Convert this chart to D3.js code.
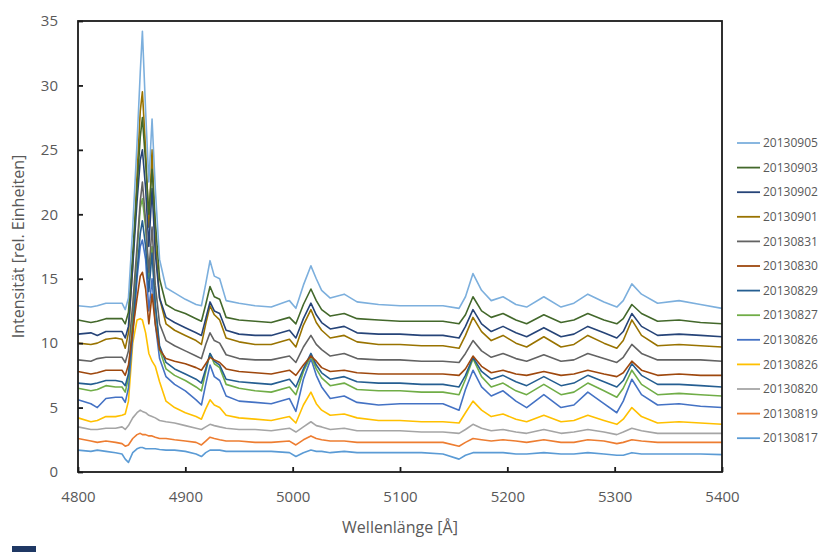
<!DOCTYPE html>
<html>
<head>
<meta charset="utf-8">
<script src="https://cdn.jsdelivr.net/npm/d3@7"></script>
<style>
  body { margin: 0; background: #fff; font-family: "Open Sans", sans-serif; }
  .tick text { fill: #595959; }
</style>
</head>
<body>
<script>
const wavelengths = [4800, 4812, 4818, 4826, 4835, 4841, 4844, 4847, 4851, 4855, 4858, 4860, 4863, 4866, 4869, 4872, 4876, 4882, 4890, 4900,
  4910, 4915, 4919, 4923, 4927, 4932, 4938, 4950, 4965, 4980, 4997, 5003, 5010, 5017, 5022, 5027, 5035, 5048, 5060, 5080,
  5100, 5120, 5140, 5155, 5161, 5168, 5176, 5185, 5196, 5208, 5218, 5234, 5250, 5262, 5275, 5290, 5302, 5308, 5316, 5325,
  5340, 5360, 5380, 5400];

const v20130817 = [1.7, 1.6, 1.7, 1.6, 1.5, 1.4, 1.0, 0.75, 1.5, 1.8, 1.9, 1.9, 1.8, 1.8, 1.8, 1.8, 1.75, 1.7, 1.7, 1.6,
  1.4, 1.2, 1.5, 1.7, 1.7, 1.7, 1.6, 1.6, 1.6, 1.6, 1.5, 1.2, 1.5, 1.7, 1.6, 1.6, 1.5, 1.6, 1.5, 1.5,
  1.5, 1.5, 1.4, 1.0, 1.3, 1.5, 1.5, 1.5, 1.5, 1.4, 1.4, 1.5, 1.4, 1.4, 1.5, 1.4, 1.3, 1.3, 1.5, 1.4,
  1.4, 1.4, 1.4, 1.35];
const v20130819 = [2.6, 2.4, 2.3, 2.4, 2.3, 2.2, 2.0, 2.1, 2.6, 2.9, 3.0, 2.9, 2.9, 2.8, 2.8, 2.7, 2.6, 2.6, 2.5, 2.4,
  2.3, 2.1, 2.4, 2.7, 2.6, 2.5, 2.4, 2.4, 2.3, 2.3, 2.4, 2.1, 2.5, 2.8, 2.6, 2.5, 2.4, 2.4, 2.3, 2.3,
  2.3, 2.3, 2.3, 2.0, 2.3, 2.6, 2.5, 2.4, 2.5, 2.4, 2.3, 2.5, 2.3, 2.3, 2.5, 2.4, 2.2, 2.3, 2.5, 2.4,
  2.3, 2.3, 2.3, 2.3];
const v20130820 = [3.5, 3.3, 3.3, 3.4, 3.4, 3.5, 3.3, 3.6, 4.2, 4.6, 4.8, 4.7, 4.6, 4.4, 4.3, 4.2, 4.0, 3.9, 3.8, 3.6,
  3.4, 3.3, 3.5, 3.7, 3.6, 3.5, 3.4, 3.3, 3.3, 3.2, 3.4, 3.1, 3.5, 3.9, 3.6, 3.5, 3.3, 3.4, 3.2, 3.2,
  3.2, 3.1, 3.1, 3.0, 3.3, 3.7, 3.4, 3.2, 3.3, 3.1, 3.0, 3.3, 3.0, 3.1, 3.3, 3.1, 2.9, 3.1, 3.4, 3.2,
  3.0, 3.0, 3.0, 3.0];
const v20130826y = [4.2, 3.9, 4.0, 4.3, 4.3, 4.4, 4.5, 5.5, 10.0, 11.8, 11.9, 11.8, 10.8, 9.2, 8.6, 8.2, 7.0, 5.5, 5.0, 4.6,
  4.3, 4.1, 4.9, 5.6, 5.2, 5.0, 4.4, 4.2, 4.1, 4.0, 4.3, 3.8, 5.2, 6.2, 5.3, 4.8, 4.4, 4.5, 4.2, 4.0,
  4.0, 3.9, 3.9, 3.8, 4.6, 5.5, 4.8, 4.3, 4.5, 4.1, 3.9, 4.4, 3.9, 4.0, 4.4, 4.0, 3.7, 4.1, 5.0, 4.3,
  3.8, 3.9, 3.8, 3.7];
const v20130826b = [5.6, 5.3, 5.0, 5.7, 5.8, 5.8, 5.4, 6.5, 10.5, 15.0, 17.5, 18.0, 16.5, 12.5, 15.0, 11.5, 8.8, 7.4, 6.8, 6.3,
  5.6, 5.2, 6.8, 8.3, 7.4, 7.1, 5.9, 5.5, 5.4, 5.3, 5.7, 4.7, 7.2, 8.8, 7.5, 6.6, 5.7, 5.9, 5.4, 5.2,
  5.3, 5.3, 5.3, 4.8, 6.4, 7.9, 6.6, 5.9, 6.3, 5.5, 5.0, 6.0, 5.0, 5.2, 6.2, 5.3, 4.6, 5.5, 7.2, 6.0,
  5.2, 5.3, 5.1, 5.0];
const v20130827 = [6.5, 6.3, 6.4, 6.7, 6.6, 6.6, 6.2, 7.3, 12.0, 17.0, 20.5, 21.2, 19.0, 15.0, 17.5, 13.0, 9.5, 8.0, 7.5, 7.1,
  6.6, 6.3, 7.8, 9.2, 8.4, 8.1, 6.8, 6.5, 6.3, 6.2, 6.6, 6.0, 7.8, 9.0, 8.0, 7.3, 6.7, 6.9, 6.4, 6.3,
  6.3, 6.2, 6.2, 6.0, 7.2, 8.8, 7.4, 6.6, 6.9, 6.3, 6.0, 6.8, 6.0, 6.2, 6.9, 6.3, 5.8, 6.5, 7.9, 6.8,
  6.0, 6.1, 6.0, 5.9];
const v20130829 = [6.9, 6.8, 6.9, 7.1, 7.1, 7.0, 6.7, 7.6, 11.0, 15.5, 18.5, 19.5, 17.5, 14.0, 17.0, 13.0, 9.8, 8.5, 8.0, 7.6,
  7.2, 6.9, 8.0, 9.2, 8.6, 8.3, 7.2, 7.0, 6.9, 6.8, 7.2, 6.6, 8.0, 9.2, 8.3, 7.7, 7.2, 7.4, 7.0, 6.9,
  6.9, 6.8, 6.8, 6.6, 7.5, 8.9, 7.8, 7.2, 7.5, 7.0, 6.7, 7.4, 6.7, 6.9, 7.5, 7.0, 6.6, 7.1, 8.4, 7.5,
  6.8, 6.8, 6.7, 6.6];
const v20130830 = [7.8, 7.6, 7.7, 7.9, 7.9, 7.9, 7.5, 8.3, 11.0, 13.5, 15.2, 15.5, 14.2, 11.5, 13.8, 11.5, 9.5, 8.8, 8.6, 8.4,
  8.1, 7.9, 8.4, 8.9, 8.7, 8.5, 8.0, 7.8, 7.7, 7.6, 7.9, 7.5, 8.3, 9.0, 8.6, 8.1, 7.8, 7.9, 7.7, 7.6,
  7.6, 7.6, 7.6, 7.5, 8.0, 9.0, 8.2, 7.7, 7.9, 7.6, 7.5, 7.8, 7.5, 7.6, 7.9, 7.6, 7.4, 7.7, 8.6, 7.9,
  7.5, 7.6, 7.5, 7.5];
const v20130831 = [8.7, 8.6, 8.8, 8.9, 8.9, 8.9, 8.5, 9.4, 13.0, 17.5, 21.0, 22.5, 19.5, 15.5, 19.0, 14.5, 11.5, 10.2, 9.8, 9.4,
  9.0, 8.8, 9.9, 10.8, 10.2, 10.0, 9.1, 8.8, 8.7, 8.7, 9.0, 8.5, 9.7, 10.6, 9.9, 9.5, 9.0, 9.2, 8.8, 8.7,
  8.7, 8.6, 8.6, 8.5, 9.2, 10.2, 9.4, 8.9, 9.2, 8.8, 8.6, 9.1, 8.6, 8.7, 9.2, 8.8, 8.5, 8.9, 9.9, 9.2,
  8.7, 8.7, 8.7, 8.6];
const v20130901 = [10.0, 9.9, 10.0, 10.3, 10.4, 10.3, 9.6, 10.8, 16.0, 23.0, 28.0, 29.5, 25.0, 19.0, 25.0, 18.0, 13.5, 11.5, 11.0, 10.6,
  10.2, 9.9, 11.5, 12.9, 12.2, 11.8, 10.4, 10.1, 9.9, 9.9, 10.3, 9.7, 11.4, 12.6, 11.6, 11.0, 10.4, 10.6, 10.1, 9.9,
  9.9, 9.8, 9.8, 9.6, 10.6, 12.0, 10.9, 10.2, 10.6, 10.0, 9.7, 10.5, 9.7, 9.9, 10.6, 10.0, 9.6, 10.2, 11.8, 10.6,
  9.8, 9.9, 9.8, 9.7];
const v20130902 = [10.7, 10.8, 10.6, 10.9, 10.9, 10.9, 10.4, 11.3, 16.0, 21.0, 24.2, 25.0, 22.0, 17.5, 22.0, 17.0, 13.5, 12.0, 11.6, 11.2,
  10.8, 10.6, 11.9, 13.2, 12.5, 12.3, 11.0, 10.7, 10.6, 10.6, 11.0, 10.4, 11.9, 13.1, 12.2, 11.6, 11.1, 11.3, 10.8, 10.7,
  10.7, 10.6, 10.6, 10.4, 11.3, 12.6, 11.5, 10.9, 11.3, 10.8, 10.5, 11.2, 10.5, 10.7, 11.3, 10.8, 10.4, 10.9, 12.3, 11.3,
  10.6, 10.7, 10.6, 10.5];
const v20130903 = [11.8, 11.6, 11.7, 11.9, 11.9, 11.9, 11.5, 12.4, 17.0, 22.0, 26.0, 27.5, 24.0, 20.0, 23.5, 19.5, 15.0, 13.0, 12.6, 12.3,
  11.9, 11.7, 13.0, 14.4, 13.6, 13.4, 12.0, 11.8, 11.7, 11.6, 12.0, 11.5, 13.0, 14.2, 13.3, 12.6, 12.1, 12.3, 11.9, 11.8,
  11.7, 11.7, 11.7, 11.5, 12.2, 13.6, 12.5, 12.0, 12.3, 11.8, 11.5, 12.2, 11.6, 11.8, 12.3, 11.8, 11.5, 11.9, 13.0, 12.3,
  11.7, 11.8, 11.6, 11.5];
const v20130905 = [12.9, 12.8, 12.9, 13.1, 13.1, 13.1, 12.6, 13.5, 19.0, 25.5, 31.0, 34.2, 28.0, 22.5, 27.4, 22.0, 16.5, 14.3, 13.9, 13.4,
  13.0, 12.9, 14.6, 16.4, 15.2, 15.0, 13.3, 13.1, 12.9, 12.8, 13.3, 12.7, 14.5, 16.0, 15.0, 14.1, 13.5, 13.8, 13.2, 13.0,
  12.9, 12.9, 12.9, 12.7, 13.6, 15.4, 14.1, 13.3, 13.6, 13.0, 12.8, 13.6, 12.8, 13.1, 13.8, 13.2, 12.8, 13.3, 14.6, 13.8,
  13.1, 13.3, 13.0, 12.7];

// series in drawing order (first = bottom), labels as in the legend
const seriesLabels = ["20130817", "20130819", "20130820", "20130826", "20130826", "20130827", "20130829",
  "20130830", "20130831", "20130901", "20130902", "20130903", "20130905"];
const seriesValues = [v20130817, v20130819, v20130820, v20130826y, v20130826b, v20130827, v20130829,
  v20130830, v20130831, v20130901, v20130902, v20130903, v20130905];
const seriesColors = ["#5b9bd5", "#ed7d31", "#a5a5a5", "#ffc000", "#4472c4", "#70ad47", "#255e91",
  "#9e480e", "#636363", "#997300", "#264478", "#43682b", "#7cafdd"];

const xTicks = [4800, 4900, 5000, 5100, 5200, 5300, 5400];
const yTicks = [0, 5, 10, 15, 20, 25, 30, 35];

const margin = { top: 21, right: 113, bottom: 80, left: 78 };
const width = 835 - margin.left - margin.right;   // 644
const height = 552 - margin.top - margin.bottom;  // 451

const svg = d3.select("body").append("svg")
  .attr("width", 835)
  .attr("height", 552);

const g = svg.append("g")
  .attr("transform", "translate(" + margin.left + "," + margin.top + ")");

const x = d3.scaleLinear().domain([4800, 5400]).range([0, width]);
const y = d3.scaleLinear().domain([0, 35]).range([height, 0]);

// spectra
const line = d3.line()
  .x((d, i) => x(wavelengths[i]))
  .y(d => y(d));

seriesValues.forEach((vals, k) => {
  g.append("path")
    .datum(vals)
    .attr("fill", "none")
    .attr("stroke", seriesColors[k])
    .attr("stroke-width", 1.6)
    .attr("stroke-linejoin", "round")
    .attr("d", line);
});

// frame
g.append("rect")
  .attr("width", width)
  .attr("height", height)
  .attr("fill", "none")
  .attr("stroke", "#1a1a1a")
  .attr("stroke-width", 1.8);

// axes, ticks pointing inward
g.append("g")
  .attr("transform", "translate(0," + height + ")")
  .call(d3.axisBottom(x).tickValues(xTicks).tickFormat(d3.format("d")).tickSize(-5).tickPadding(19))
  .call(a => a.select(".domain").remove())
  .call(a => a.selectAll("line").attr("stroke", "#1a1a1a").attr("stroke-width", 1.8))
  .call(a => a.selectAll("text").style("font-size", "15px").attr("font-family", "Open Sans"));

g.append("g")
  .call(d3.axisLeft(y).tickValues(yTicks).tickSize(-5).tickPadding(20))
  .call(a => a.select(".domain").remove())
  .call(a => a.selectAll("line").attr("stroke", "#1a1a1a").attr("stroke-width", 1.8))
  .call(a => a.selectAll("text").style("font-size", "15px").attr("font-family", "Open Sans"));

// axis titles
svg.append("text")
  .attr("x", margin.left + width / 2)
  .attr("y", 533)
  .attr("text-anchor", "middle")
  .attr("fill", "#595959")
  .style("font-size", "16px")
  .text("Wellenlänge [Å]");

svg.append("text")
  .attr("transform", "translate(24," + (margin.top + height / 2) + ") rotate(-90)")
  .attr("text-anchor", "middle")
  .attr("fill", "#595959")
  .style("font-size", "16px")
  .text("Intensität [rel. Einheiten]");

// legend, last series on top
const legend = svg.append("g");
const order = d3.range(seriesLabels.length).reverse();
order.forEach((k, i) => {
  const ly = 143 + i * 24.6;
  legend.append("line")
    .attr("x1", 737).attr("x2", 760)
    .attr("y1", ly).attr("y2", ly)
    .attr("stroke", seriesColors[k])
    .attr("stroke-width", 1.8);
  legend.append("text")
    .attr("x", 763)
    .attr("y", ly)
    .attr("dy", "0.35em")
    .attr("fill", "#595959")
    .style("font-size", "12px")
    .text(seriesLabels[k]);
});

// small dark block in the lower left corner of the source picture
svg.append("rect")
  .attr("x", 12).attr("y", 546)
  .attr("width", 24).attr("height", 6)
  .attr("fill", "#1f3864");
</script>
</body>
</html>
